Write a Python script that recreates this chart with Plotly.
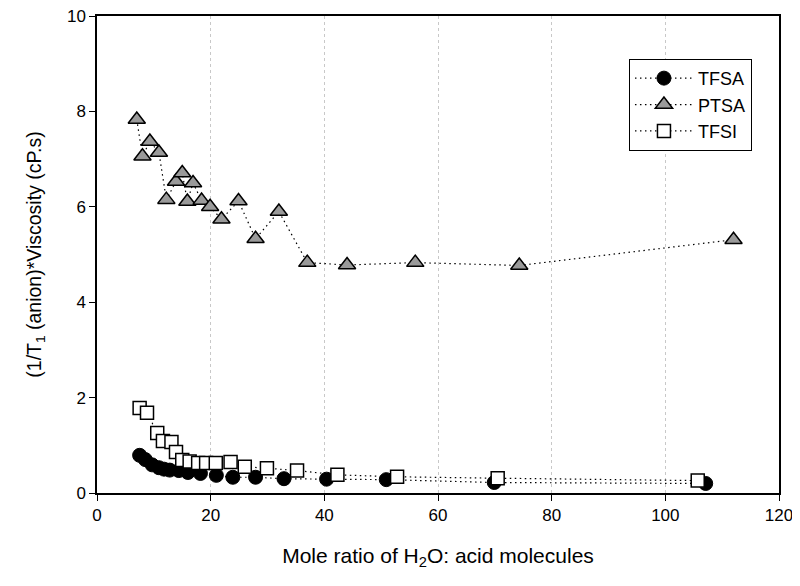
import plotly.graph_objects as go

# Mole ratio H2O : acid, and (1/T1)*viscosity values
tfsa_x = [7.5, 8.5, 9.7, 10.9, 11.8, 12.8, 14.4, 16.0, 18.2, 21.0, 23.9, 27.9, 32.9, 40.4, 50.9, 69.9, 107.1]
tfsa_y = [0.79, 0.70, 0.59, 0.53, 0.50, 0.48, 0.47, 0.43, 0.41, 0.37, 0.33, 0.33, 0.30, 0.29, 0.28, 0.22, 0.20]

ptsa_x = [7.0, 8.0, 9.3, 10.9, 12.2, 13.9, 15.0, 15.9, 16.9, 18.4, 19.9, 21.9, 24.9, 27.9, 32.0, 37.0, 44.0, 56.0, 74.3, 112.0]
ptsa_y = [7.83, 7.06, 7.37, 7.14, 6.15, 6.53, 6.71, 6.11, 6.50, 6.13, 6.00, 5.74, 6.12, 5.33, 5.90, 4.83, 4.78, 4.83, 4.77, 5.31]

tfsi_x = [7.5, 8.8, 10.6, 11.6, 13.1, 13.9, 15.0, 16.3, 17.8, 19.2, 20.9, 23.5, 26.0, 29.9, 35.2, 42.3, 52.8, 70.5, 105.7]
tfsi_y = [1.78, 1.68, 1.26, 1.09, 1.07, 0.86, 0.69, 0.66, 0.63, 0.63, 0.63, 0.65, 0.55, 0.52, 0.47, 0.38, 0.34, 0.31, 0.26]

font = "Liberation Sans"
dotted = dict(color="black", width=1.2, dash="1.5px,3.5px")

fig = go.Figure()

fig.add_trace(go.Scatter(
    x=tfsa_x, y=tfsa_y, name="TFSA", mode="lines+markers", line=dotted,
    marker=dict(symbol="circle", size=14, color="black", line=dict(color="black", width=1)),
))
fig.add_trace(go.Scatter(
    x=ptsa_x, y=ptsa_y, name="PTSA", mode="lines+markers", line=dotted,
    marker=dict(symbol="triangle-up", size=15, color="#9a9a9a", line=dict(color="black", width=1.5)),
))
fig.add_trace(go.Scatter(
    x=tfsi_x, y=tfsi_y, name="TFSI", mode="lines+markers", line=dotted,
    marker=dict(symbol="square", size=13, color="white", line=dict(color="black", width=1.5)),
))

# page body adds an 8px margin all round, so the figure is sized to fit inside it
fig.update_layout(
    width=784, height=570,
    margin=dict(l=89, r=13, t=8, b=85),
    plot_bgcolor="white", paper_bgcolor="white",
    font=dict(family=font, size=17, color="black"),
    legend=dict(
        x=0.78, y=0.91, xanchor="left", yanchor="top",
        bordercolor="black", borderwidth=1, bgcolor="white",
        font=dict(family=font, size=18),
        tracegroupgap=0, itemwidth=58,
    ),
    xaxis=dict(
        range=[0, 120], dtick=20, automargin=False,
        showline=True, linecolor="black", linewidth=1.5, mirror=True,
        ticks="outside", ticklen=6, tickcolor="black",
        tickfont=dict(family=font, size=17), ticklabeloverflow="allow",
        showgrid=True, gridcolor="#c8c8c8", griddash="dot", gridwidth=1,
        zeroline=False,
        title=dict(text="Mole ratio of H<sub>2</sub>O: acid molecules",
                   font=dict(family=font, size=21), standoff=24),
    ),
    yaxis=dict(
        range=[0, 10], dtick=2, automargin=False,
        showline=True, linecolor="black", linewidth=1.5, mirror=True,
        ticks="outside", ticklen=6, tickcolor="black",
        tickfont=dict(family=font, size=17), ticklabeloverflow="allow",
        showgrid=False, zeroline=False,
        title=dict(text="(1/T<sub>1</sub> (anion)*Viscosity (cP.s)",
                   font=dict(family=font, size=19.5), standoff=20),
    ),
)

fig.update_traces(cliponaxis=False)

fig.write_html("out.html")
